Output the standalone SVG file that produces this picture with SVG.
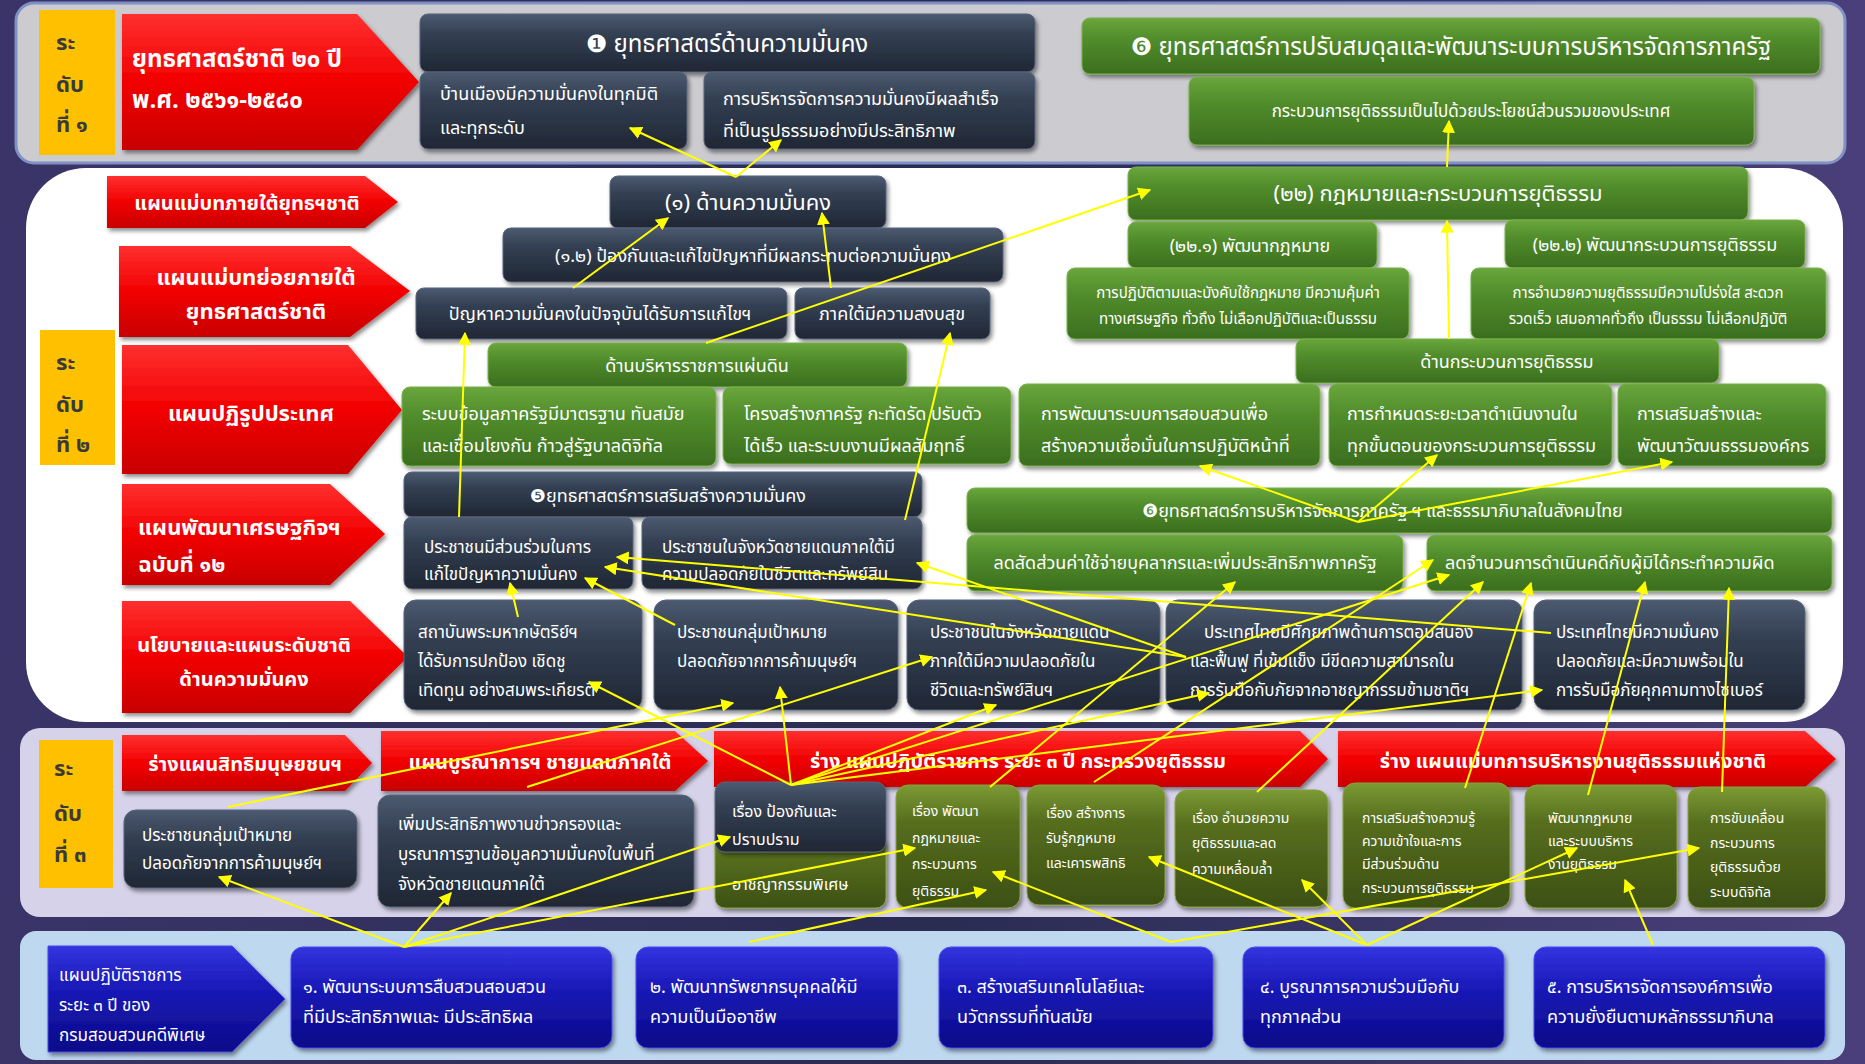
<svg xmlns="http://www.w3.org/2000/svg" width="1865" height="1064" viewBox="0 0 1865 1064">
<defs>
<linearGradient id="gBg" x1="0" y1="0" x2="1" y2="0"><stop offset="0" stop-color="#3a3468"/><stop offset="0.5" stop-color="#2a2c52"/><stop offset="1" stop-color="#4a3f7a"/></linearGradient>
<linearGradient id="gRed" x1="0" y1="0" x2="0" y2="1"><stop offset="0" stop-color="#ff3030"/><stop offset="0.5" stop-color="#f20000"/><stop offset="1" stop-color="#c80000"/></linearGradient>
<linearGradient id="gDark" x1="0" y1="0" x2="0" y2="1"><stop offset="0" stop-color="#4c5a70"/><stop offset="0.35" stop-color="#333f52"/><stop offset="1" stop-color="#1f2734"/></linearGradient>
<linearGradient id="gGreen" x1="0" y1="0" x2="0" y2="1"><stop offset="0" stop-color="#6aa63c"/><stop offset="0.35" stop-color="#528e2c"/><stop offset="1" stop-color="#3b6e1e"/></linearGradient>
<linearGradient id="gOlive" x1="0" y1="0" x2="0" y2="1"><stop offset="0" stop-color="#7c9a34"/><stop offset="0.3" stop-color="#566e1e"/><stop offset="1" stop-color="#3c5012"/></linearGradient>
<linearGradient id="gBlue" x1="0" y1="0" x2="0" y2="1"><stop offset="0" stop-color="#3434e0"/><stop offset="0.4" stop-color="#1a1ab8"/><stop offset="1" stop-color="#0a0a88"/></linearGradient>
<filter id="sh" x="-5%" y="-10%" width="115%" height="130%"><feDropShadow dx="2" dy="3" stdDeviation="2" flood-color="#000" flood-opacity="0.45"/></filter>
<marker id="ah" viewBox="0 0 10 10" refX="9" refY="5" markerWidth="13" markerHeight="13" markerUnits="userSpaceOnUse" orient="auto"><path d="M0,0 L10,5 L0,10 z" fill="#ffff00"/></marker>
<style>
.red{fill:url(#gRed);filter:url(#sh)}
.dk{fill:url(#gDark);stroke:#56657c;stroke-width:1;filter:url(#sh)}
.gr{fill:url(#gGreen);stroke:#78b24a;stroke-width:1;filter:url(#sh)}
.ol{fill:url(#gOlive);stroke:#86a23e;stroke-width:1;filter:url(#sh)}
.bl{fill:url(#gBlue);stroke:#4a4af0;stroke-width:1;filter:url(#sh)}
.yl{fill:#ffc000}
text{font-family:"Noto Sans Thai","Noto Sans","DejaVu Sans","Liberation Sans",sans-serif;fill:#fff}
.b{font-weight:bold}
.c{text-anchor:middle}
.yt{fill:#3a3a3a;font-weight:bold;font-size:22px}
.f24{font-size:24px}.f22{font-size:22px}.f20{font-size:20px}.f18{font-size:18px}.f17{font-size:17px}.f16{font-size:16px}.f15{font-size:15px}.f14{font-size:14px}
.cn line{stroke:#ffff00;stroke-width:2;marker-end:url(#ah)}
</style>
</defs>

<rect x="0" y="0" width="1865" height="1064" fill="url(#gBg)"/>
<g id="panels">
<rect x="16" y="3" width="1829" height="160" rx="18" fill="#cbcbd0" stroke="#7f90c4" stroke-width="3"/>
<rect x="26" y="168" width="1817" height="554" rx="60" fill="#ffffff"/>
<rect x="20" y="728" width="1825" height="189" rx="20" fill="#d6d2e9"/>
<rect x="20" y="931" width="1825" height="129" rx="16" fill="#bed8f0"/>
</g>

<!-- Level 1 -->
<g id="lv1"><rect class="yl" x="39" y="10" width="76" height="145"/><text class="yt" x="56" y="50">ระ</text><text class="yt" x="56" y="92">ดับ</text><text class="yt" x="56" y="132">ที่ ๑</text></g>
<g id="ns20"><polygon class="red" points="122,14 357,14 419,82 357,150 122,150"/><text class="b f24" x="132" y="67">ยุทธศาสตร์ชาติ ๒๐ ปี</text><text class="b f24" x="132" y="108">พ.ศ. ๒๕๖๑-๒๕๘๐</text></g>
<g id="s1"><rect class="dk" x="420" y="14" width="615" height="58" rx="8"/><text class="c f24" x="727" y="52">❶ ยุทธศาสตร์ด้านความมั่นคง</text></g>
<g id="s1a"><rect class="dk" x="420" y="72" width="267" height="77" rx="8"/><text class="f18" x="440" y="100">บ้านเมืองมีความมั่นคงในทุกมิติ</text><text class="f18" x="440" y="134">และทุกระดับ</text></g>
<g id="s1b"><rect class="dk" x="704" y="72" width="331" height="77" rx="8"/><text class="f18" x="723" y="105">การบริหารจัดการความมั่นคงมีผลสำเร็จ</text><text class="f18" x="723" y="137">ที่เป็นรูปธรรมอย่างมีประสิทธิภาพ</text></g>
<g id="s6"><rect class="gr" x="1082" y="18" width="738" height="56" rx="8"/><text class="c f24" x="1451" y="55">❻ ยุทธศาสตร์การปรับสมดุลและพัฒนาระบบการบริหารจัดการภาครัฐ</text></g>
<g id="s6a"><rect class="gr" x="1189" y="77" width="565" height="68" rx="8"/><text class="c f17" x="1471" y="117">กระบวนการยุติธรรมเป็นไปด้วยประโยชน์ส่วนรวมของประเทศ</text></g>

<!-- Level 2 -->
<g id="lv2"><rect class="yl" x="40" y="330" width="75" height="135"/><text class="yt" x="56" y="370">ระ</text><text class="yt" x="56" y="412">ดับ</text><text class="yt" x="56" y="452">ที่ ๒</text></g>
<g id="r2a"><polygon class="red" points="107,176 365,176 398,202 365,228 107,228"/><text class="b c f20" x="247" y="210">แผนแม่บทภายใต้ยุทธฯชาติ</text></g>
<g id="r2b"><polygon class="red" points="119,246 350,246 410,291 350,337 119,337"/><text class="b c f22" x="256" y="285">แผนแม่บทย่อยภายใต้</text><text class="b c f22" x="256" y="319">ยุทธศาสตร์ชาติ</text></g>
<g id="r2c"><polygon class="red" points="122,345 348,345 402,410 348,474 122,474"/><text class="b c f22" x="251" y="421">แผนปฏิรูปประเทศ</text></g>
<g id="r2d"><polygon class="red" points="122,484 330,484 385,534 330,585 122,585"/><text class="b f22" x="138" y="535">แผนพัฒนาเศรษฐกิจฯ</text><text class="b f22" x="138" y="572">ฉบับที่ ๑๒</text></g>
<g id="r2e"><polygon class="red" points="122,601 350,601 408,657 350,713 122,713"/><text class="b c f20" x="244" y="652">นโยบายและแผนระดับชาติ</text><text class="b c f20" x="244" y="686">ด้านความมั่นคง</text></g>

<g id="m1"><rect class="dk" x="610" y="176" width="276" height="52" rx="8"/><text class="c f22" x="748" y="210">(๑) ด้านความมั่นคง</text></g>
<g id="m12"><rect class="dk" x="503" y="228" width="500" height="54" rx="8"/><text class="c f18" x="753" y="262">(๑.๒) ป้องกันและแก้ไขปัญหาที่มีผลกระทบต่อความมั่นคง</text></g>
<g id="m12a"><rect class="dk" x="416" y="288" width="371" height="51" rx="8"/><text class="c f18" x="600" y="320">ปัญหาความมั่นคงในปัจจุบันได้รับการแก้ไขฯ</text></g>
<g id="m12b"><rect class="dk" x="795" y="288" width="195" height="51" rx="8"/><text class="c f18" x="892" y="320">ภาคใต้มีความสงบสุข</text></g>
<g id="m22"><rect class="gr" x="1128" y="167" width="620" height="53" rx="8"/><text class="c f22" x="1438" y="201">(๒๒) กฎหมายและกระบวนการยุติธรรม</text></g>
<g id="m221"><rect class="gr" x="1128" y="222" width="249" height="46" rx="8"/><text class="c f18" x="1250" y="252">(๒๒.๑) พัฒนากฎหมาย</text></g>
<g id="m222"><rect class="gr" x="1505" y="220" width="300" height="48" rx="8"/><text class="c f18" x="1655" y="251">(๒๒.๒) พัฒนากระบวนการยุติธรรม</text></g>
<g id="m221a"><rect class="gr" x="1067" y="268" width="342" height="71" rx="8"/><text class="c f15" x="1238" y="298">การปฏิบัติตามและบังคับใช้กฎหมาย มีความคุ้มค่า</text><text class="c f15" x="1238" y="324">ทางเศรษฐกิจ ทั่วถึง ไม่เลือกปฏิบัติและเป็นธรรม</text></g>
<g id="m222a"><rect class="gr" x="1471" y="268" width="355" height="71" rx="8"/><text class="c f15" x="1648" y="298">การอำนวยความยุติธรรมมีความโปร่งใส สะดวก</text><text class="c f15" x="1648" y="324">รวดเร็ว เสมอภาคทั่วถึง เป็นธรรม ไม่เลือกปฏิบัติ</text></g>

<g id="pa"><rect class="gr" x="488" y="343" width="419" height="44" rx="8"/><text class="c f18" x="697" y="372">ด้านบริหารราชการแผ่นดิน</text></g>
<g id="pa1"><rect class="gr" x="402" y="387" width="314" height="79" rx="8"/><text class="f18" x="422" y="420">ระบบข้อมูลภาครัฐมีมาตรฐาน ทันสมัย</text><text class="f18" x="422" y="452">และเชื่อมโยงกัน ก้าวสู่รัฐบาลดิจิทัล</text></g>
<g id="pa2"><rect class="gr" x="723" y="387" width="288" height="77" rx="8"/><text class="f18" x="744" y="420">โครงสร้างภาครัฐ กะทัดรัด ปรับตัว</text><text class="f18" x="744" y="452">ได้เร็ว และระบบงานมีผลสัมฤทธิ์</text></g>
<g id="pj"><rect class="gr" x="1296" y="339" width="423" height="44" rx="8"/><text class="c f18" x="1507" y="368">ด้านกระบวนการยุติธรรม</text></g>
<g id="pj1"><rect class="gr" x="1019" y="384" width="301" height="82" rx="8"/><text class="f18" x="1041" y="420">การพัฒนาระบบการสอบสวนเพื่อ</text><text class="f18" x="1041" y="452">สร้างความเชื่อมั่นในการปฏิบัติหน้าที่</text></g>
<g id="pj2"><rect class="gr" x="1329" y="384" width="283" height="82" rx="8"/><text class="f18" x="1347" y="420">การกำหนดระยะเวลาดำเนินงานใน</text><text class="f18" x="1347" y="452">ทุกขั้นตอนของกระบวนการยุติธรรม</text></g>
<g id="pj3"><rect class="gr" x="1618" y="384" width="208" height="82" rx="8"/><text class="f18" x="1637" y="420">การเสริมสร้างและ</text><text class="f18" x="1637" y="452">พัฒนาวัฒนธรรมองค์กร</text></g>

<g id="e5"><rect class="dk" x="404" y="472" width="518" height="45" rx="8"/><text class="c f18" x="668" y="502">❺ยุทธศาสตร์การเสริมสร้างความมั่นคง</text></g>
<g id="e5a"><rect class="dk" x="404" y="517" width="229" height="72" rx="8"/><text class="f17" x="424" y="553">ประชาชนมีส่วนร่วมในการ</text><text class="f17" x="424" y="580">แก้ไขปัญหาความมั่นคง</text></g>
<g id="e5b"><rect class="dk" x="642" y="517" width="280" height="72" rx="8"/><text class="f17" x="662" y="553">ประชาชนในจังหวัดชายแดนภาคใต้มี</text><text class="f17" x="662" y="580">ความปลอดภัยในชีวิตและทรัพย์สิน</text></g>
<g id="e6"><rect class="gr" x="967" y="488" width="865" height="45" rx="8"/><text class="f18" x="1142" y="517">❻ยุทธศาสตร์การบริหารจัดการภาครัฐ ฯ และธรรมาภิบาลในสังคมไทย</text></g>
<g id="e6a"><rect class="gr" x="967" y="535" width="436" height="56" rx="8"/><text class="c f18" x="1185" y="569">ลดสัดส่วนค่าใช้จ่ายบุคลากรและเพิ่มประสิทธิภาพภาครัฐ</text></g>
<g id="e6b"><rect class="gr" x="1427" y="535" width="405" height="56" rx="8"/><text class="f18" x="1445" y="569">ลดจำนวนการดำเนินคดีกับผู้มิได้กระทำความผิด</text></g>

<g id="n1"><rect class="dk" x="404" y="600" width="238" height="110" rx="12"/><text class="f17" x="418" y="638">สถาบันพระมหากษัตริย์ฯ</text><text class="f17" x="418" y="667">ได้รับการปกป้อง เชิดชู</text><text class="f17" x="418" y="696">เทิดทูน อย่างสมพระเกียรติ</text></g>
<g id="n2"><rect class="dk" x="654" y="600" width="244" height="110" rx="12"/><text class="f17" x="677" y="638">ประชาชนกลุ่มเป้าหมาย</text><text class="f17" x="677" y="667">ปลอดภัยจากการค้ามนุษย์ฯ</text></g>
<g id="n3"><rect class="dk" x="907" y="600" width="253" height="110" rx="12"/><text class="f17" x="930" y="638">ประชาชนในจังหวัดชายแดน</text><text class="f17" x="930" y="667">ภาคใต้มีความปลอดภัยใน</text><text class="f17" x="930" y="696">ชีวิตและทรัพย์สินฯ</text></g>
<g id="n4"><rect class="dk" x="1166" y="600" width="356" height="110" rx="12"/><text class="f17" x="1204" y="638">ประเทศไทยมีศักยภาพด้านการตอบสนอง</text><text class="f17" x="1190" y="667">และฟื้นฟู ที่เข้มแข็ง มีขีดความสามารถใน</text><text class="f17" x="1190" y="696">การรับมือกับภัยจากอาชญากรรมข้ามชาติฯ</text></g>
<g id="n5"><rect class="dk" x="1534" y="600" width="271" height="110" rx="12"/><text class="f17" x="1556" y="638">ประเทศไทยมีความมั่นคง</text><text class="f17" x="1556" y="667">ปลอดภัยและมีความพร้อมใน</text><text class="f17" x="1556" y="696">การรับมือภัยคุกคามทางไซเบอร์</text></g>

<!-- Level 3 -->
<g id="lv3"><rect class="yl" x="39" y="740" width="74" height="148"/><text class="yt" x="54" y="776">ระ</text><text class="yt" x="54" y="821">ดับ</text><text class="yt" x="54" y="862">ที่ ๓</text></g>
<g id="r3a"><polygon class="red" points="122,735 345,735 372,763 345,791 122,791"/><text class="b c f20" x="245" y="771">ร่างแผนสิทธิมนุษยชนฯ</text></g>
<g id="r3b"><polygon class="red" points="381,731 675,731 708,761 675,791 381,791"/><text class="b c f20" x="540" y="769">แผนบูรณาการฯ ชายแดนภาคใต้</text></g>
<g id="r3c"><polygon class="red" points="714,731 1300,731 1328,759 1300,787 714,787"/><text class="b c f20" x="1018" y="768">ร่าง แผนปฏิบัติราชการ ระยะ ๓ ปี กระทรวงยุติธรรม</text></g>
<g id="r3d"><polygon class="red" points="1338,731 1805,731 1836,759 1805,787 1338,787"/><text class="b c f20" x="1573" y="768">ร่าง แผนแม่บทการบริหารงานยุติธรรมแห่งชาติ</text></g>
<g id="t1"><rect class="dk" x="124" y="810" width="233" height="78" rx="12"/><text class="f17" x="142" y="841">ประชาชนกลุ่มเป้าหมาย</text><text class="f17" x="142" y="869">ปลอดภัยจากการค้ามนุษย์ฯ</text></g>
<g id="t2"><rect class="dk" x="378" y="795" width="316" height="112" rx="12"/><text class="f17" x="398" y="830">เพิ่มประสิทธิภาพงานข่าวกรองและ</text><text class="f17" x="398" y="860">บูรณาการฐานข้อมูลความมั่นคงในพื้นที่</text><text class="f17" x="398" y="890">จังหวัดชายแดนภาคใต้</text></g>
<g id="t3"><rect class="ol" x="715" y="836" width="171" height="72" rx="10"/><rect class="dk" x="715" y="782" width="171" height="70" rx="10"/><text class="f16" x="732" y="817">เรื่อง ป้องกันและ</text><text class="f16" x="732" y="845">ปราบปราม</text><text class="f16" x="732" y="890">อาชญากรรมพิเศษ</text></g>
<g id="t4"><rect class="ol" x="896" y="785" width="124" height="123" rx="12"/><text class="f14" x="912" y="816">เรื่อง พัฒนา</text><text class="f14" x="912" y="843">กฎหมายและ</text><text class="f14" x="912" y="869">กระบวนการ</text><text class="f14" x="912" y="896">ยุติธรรม</text></g>
<g id="t5"><rect class="ol" x="1027" y="785" width="138" height="120" rx="12"/><text class="f14" x="1046" y="818">เรื่อง สร้างการ</text><text class="f14" x="1046" y="843">รับรู้กฎหมาย</text><text class="f14" x="1046" y="868">และเคารพสิทธิ</text></g>
<g id="t6"><rect class="ol" x="1175" y="790" width="153" height="117" rx="12"/><text class="f14" x="1192" y="823">เรื่อง อำนวยความ</text><text class="f14" x="1192" y="848">ยุติธรรมและลด</text><text class="f14" x="1192" y="874">ความเหลื่อมล้ำ</text></g>
<g id="t7"><rect class="ol" x="1343" y="783" width="167" height="125" rx="12"/><text class="f14" x="1362" y="823">การเสริมสร้างความรู้</text><text class="f14" x="1362" y="846">ความเข้าใจและการ</text><text class="f14" x="1362" y="869">มีส่วนร่วมด้าน</text><text class="f14" x="1362" y="893">กระบวนการยุติธรรม</text></g>
<g id="t8"><rect class="ol" x="1525" y="785" width="152" height="123" rx="12"/><text class="f14" x="1548" y="823">พัฒนากฎหมาย</text><text class="f14" x="1548" y="846">และระบบบริหาร</text><text class="f14" x="1548" y="869">งานยุติธรรม</text></g>
<g id="t9"><rect class="ol" x="1688" y="787" width="138" height="121" rx="12"/><text class="f14" x="1710" y="823">การขับเคลื่อน</text><text class="f14" x="1710" y="848">กระบวนการ</text><text class="f14" x="1710" y="872">ยุติธรรมด้วย</text><text class="f14" x="1710" y="897">ระบบดิจิทัล</text></g>

<!-- Level 4 -->
<g id="d0"><polygon class="bl" points="48,946 232,946 285,999 232,1052 48,1052"/><text class="f17" x="59" y="981">แผนปฏิบัติราชการ</text><text class="f17" x="59" y="1011">ระยะ ๓ ปี ของ</text><text class="f17" x="59" y="1041">กรมสอบสวนคดีพิเศษ</text></g>
<g id="d1"><rect class="bl" x="291" y="947" width="321" height="101" rx="12"/><text class="f18" x="303" y="993">๑. พัฒนาระบบการสืบสวนสอบสวน</text><text class="f18" x="303" y="1023">ที่มีประสิทธิภาพและ มีประสิทธิผล</text></g>
<g id="d2"><rect class="bl" x="636" y="947" width="262" height="101" rx="12"/><text class="f18" x="650" y="993">๒. พัฒนาทรัพยากรบุคคลให้มี</text><text class="f18" x="650" y="1023">ความเป็นมืออาชีพ</text></g>
<g id="d3"><rect class="bl" x="939" y="947" width="274" height="101" rx="12"/><text class="f18" x="957" y="993">๓. สร้างเสริมเทคโนโลยีและ</text><text class="f18" x="957" y="1023">นวัตกรรมที่ทันสมัย</text></g>
<g id="d4"><rect class="bl" x="1243" y="947" width="261" height="101" rx="12"/><text class="f18" x="1260" y="993">๔. บูรณาการความร่วมมือกับ</text><text class="f18" x="1260" y="1023">ทุกภาคส่วน</text></g>
<g id="d5"><rect class="bl" x="1534" y="947" width="291" height="101" rx="12"/><text class="f18" x="1547" y="993">๕. การบริหารจัดการองค์การเพื่อ</text><text class="f18" x="1547" y="1023">ความยั่งยืนตามหลักธรรมาภิบาล</text></g>

<g id="connectors" class="cn">
<line x1="736" y1="177" x2="630" y2="128"/>
<line x1="736" y1="177" x2="781" y2="140"/>
<line x1="1447" y1="167" x2="1449" y2="121"/>
<line x1="573" y1="288" x2="668" y2="218"/>
<line x1="831" y1="288" x2="822" y2="213"/>
<line x1="706" y1="343" x2="1150" y2="190"/>
<line x1="1449" y1="339" x2="1447" y2="221"/>
<line x1="459" y1="517" x2="465" y2="333"/>
<line x1="905" y1="520" x2="950" y2="333"/>
<line x1="1358" y1="522" x2="1200" y2="466"/>
<line x1="1358" y1="522" x2="1437" y2="455"/>
<line x1="1358" y1="522" x2="1672" y2="462"/>
<line x1="518" y1="617" x2="510" y2="583"/>
<line x1="675" y1="625" x2="585" y2="578"/>
<line x1="1186" y1="657" x2="605" y2="567"/>
<line x1="1551" y1="633" x2="617" y2="557"/>
<line x1="1186" y1="657" x2="917" y2="563"/>
<line x1="228" y1="807" x2="733" y2="703"/>
<line x1="527" y1="787" x2="932" y2="657"/>
<line x1="791" y1="785" x2="780" y2="687"/>
<line x1="791" y1="785" x2="589" y2="682"/>
<line x1="791" y1="785" x2="996" y2="705"/>
<line x1="791" y1="785" x2="1209" y2="693"/>
<line x1="791" y1="785" x2="1542" y2="690"/>
<line x1="791" y1="785" x2="1449" y2="575"/>
<line x1="990" y1="787" x2="1235" y2="582"/>
<line x1="1094" y1="782" x2="1433" y2="560"/>
<line x1="1257" y1="792" x2="1483" y2="582"/>
<line x1="1465" y1="788" x2="1531" y2="583"/>
<line x1="1588" y1="795" x2="1645" y2="582"/>
<line x1="1722" y1="792" x2="1729" y2="588"/>
<line x1="404" y1="947" x2="219" y2="877"/>
<line x1="404" y1="947" x2="451" y2="893"/>
<line x1="404" y1="947" x2="730" y2="837"/>
<line x1="404" y1="947" x2="915" y2="848"/>
<line x1="749" y1="942" x2="986" y2="890"/>
<line x1="1171" y1="942" x2="993" y2="872"/>
<line x1="1171" y1="942" x2="1699" y2="848"/>
<line x1="1367" y1="945" x2="1149" y2="857"/>
<line x1="1367" y1="945" x2="1302" y2="880"/>
<line x1="1367" y1="945" x2="1577" y2="848"/>
<line x1="1653" y1="945" x2="1625" y2="880"/>
</g>
</svg>
